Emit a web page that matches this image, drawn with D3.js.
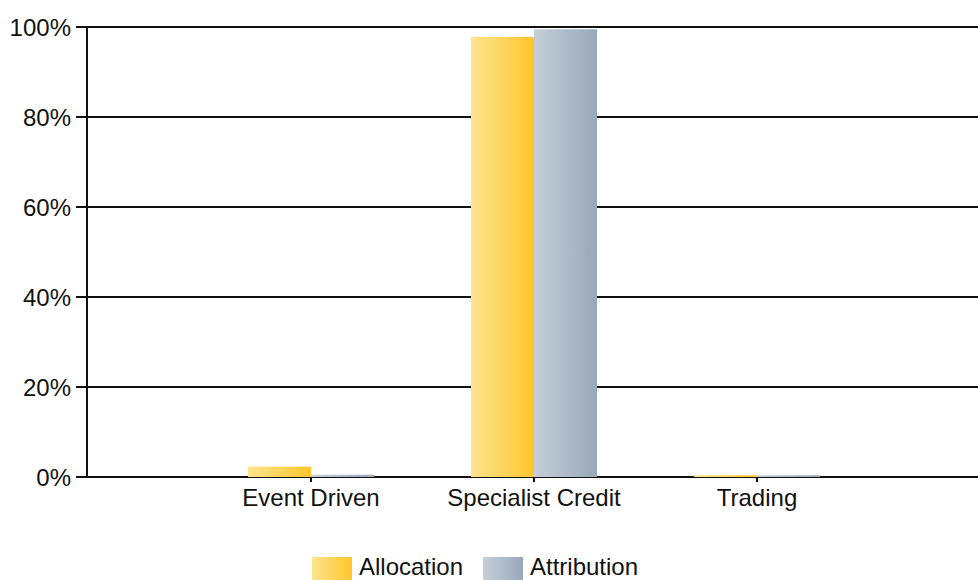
<!DOCTYPE html>
<html><head><meta charset="utf-8">
<script src="https://cdn.jsdelivr.net/npm/d3@7"></script>
<style>body{margin:0;background:#fff}svg{display:block}text{font-family:"Liberation Sans",Arial,sans-serif;fill:#111}</style>
</head><body><svg id="c" width="978" height="580"></svg>
<script>
const categories = ["Event Driven", "Specialist Credit", "Trading"];
const series = ["Allocation", "Attribution"];
const allocation = [2.3, 97.8, 0.4];
const attribution = [0.5, 99.5, 0.4];
const yTicks = [0, 20, 40, 60, 80, 100];

const svg = d3.select("#c");
const L = 87, R = 978, T = 27, B = 477;
const y = d3.scaleLinear().domain([0, 100]).range([B, T]);
const x = d3.scalePoint().domain(["", ...categories, " "]).range([L + 1, R + 2]);
const barW = 63;
const xs = d3.scaleBand().domain(series).range([-barW, barW]).padding(0);

const defs = svg.append("defs");
const grads = [["gA", "#fde48f", "#fec62a"], ["gB", "#c6cfd9", "#98a8ba"]];
grads.forEach(([id, c1, c2]) => {
  const g = defs.append("linearGradient").attr("id", id).attr("x1", 0).attr("x2", 1).attr("y1", 0).attr("y2", 0);
  g.append("stop").attr("offset", "0%").attr("stop-color", c1);
  g.append("stop").attr("offset", "100%").attr("stop-color", c2);
});

// gridlines
svg.append("g").selectAll("line").data(yTicks).join("line")
  .attr("x1", 76).attr("x2", R).attr("y1", d => y(d)).attr("y2", d => y(d))
  .attr("stroke", "#111").attr("stroke-width", 2);
svg.append("line").attr("x1", L).attr("x2", L).attr("y1", T).attr("y2", B).attr("stroke", "#111").attr("stroke-width", 2);
svg.append("g").selectAll("text").data(yTicks).join("text")
  .attr("x", 71).attr("y", d => y(d)).attr("dy", "0.36em").attr("text-anchor", "end")
  .style("font-size", "24px").text(d => d + "%");

const data = categories.map((c, i) => ({c, vals: [allocation[i], attribution[i]]}));
const g = svg.append("g");
data.forEach(d => {
  d.vals.forEach((v, j) => {
    g.append("rect").attr("x", x(d.c) + xs(series[j])).attr("width", xs.bandwidth())
      .attr("y", y(v)).attr("height", B - y(v)).attr("fill", `url(#${grads[j][0]})`);
  });
});
// x ticks
svg.append("g").selectAll("line").data(categories).join("line")
  .attr("x1", d => x(d)).attr("x2", d => x(d)).attr("y1", B).attr("y2", B + 5)
  .attr("stroke", "#111").attr("stroke-width", 2);
svg.append("g").selectAll("text").data(categories).join("text")
  .attr("x", d => x(d)).attr("y", 506).attr("text-anchor", "middle")
  .style("font-size", "24px").text(d => d);

// legend
const leg = svg.append("g");
const legX = [312, 483];
series.forEach((s, j) => {
  leg.append("rect").attr("x", legX[j]).attr("y", 557).attr("width", 40).attr("height", 26).attr("fill", `url(#${grads[j][0]})`);
  leg.append("text").attr("x", legX[j] + 47).attr("y", 575).style("font-size", "24px").text(s);
});
</script></body></html>
